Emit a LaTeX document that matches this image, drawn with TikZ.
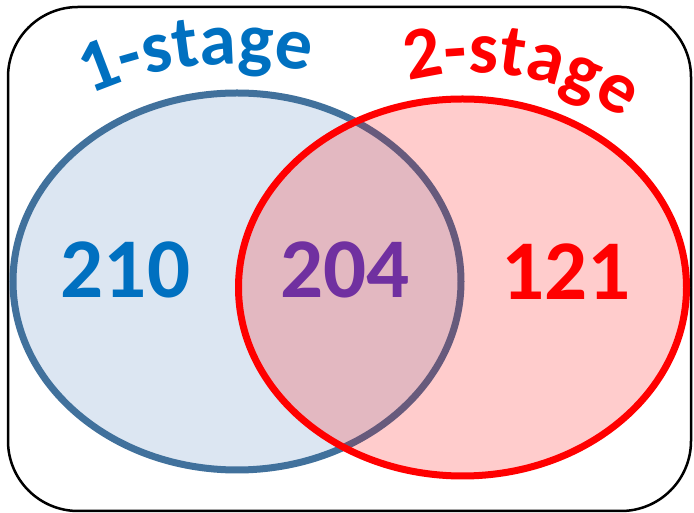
\documentclass[tikz,border=0pt]{standalone}
\usepackage{fontspec}
\setmainfont{Carlito}
\usetikzlibrary{decorations.text}
\definecolor{lblue}{HTML}{0070C0}
\definecolor{lpurple}{HTML}{7030A0}
\definecolor{lred}{HTML}{FF0000}
\definecolor{bfill}{HTML}{DCE6F2}
\definecolor{bline}{HTML}{41719C}
\newcommand\lblfont{\fontsize{74}{74}\selectfont\bfseries}
\newcommand\numfont{\fontsize{85}{85}\selectfont\bfseries}
\tikzset{
  frame/.style={draw=black, line width=2.5pt, rounded corners=70pt},
  setA/.style={fill=bfill, draw=bline, line width=7pt},
  setB/.style={fill=red, fill opacity=0.2, draw=lred, draw opacity=1, line width=7pt},
  count/.style={font=\numfont, inner sep=0pt},
}
\begin{document}
\begin{tikzpicture}[x=1pt,y=1pt]
\useasboundingbox (0,0) rectangle (694,513);
\draw[frame] (8,506) rectangle (691,2);
\path[setA] (237,231.5) ellipse [x radius=224, y radius=188.5];
\path[setB] (462.5,225.5) ellipse [x radius=224, y radius=188.5];
\node[count, text=lblue] (n210) at (125.5,243) {210};
\node[count, text=lpurple] (n204) at (345,243) {204};
\node[count, text=lred] (n121) at (566,241) {121};
\path[decorate, decoration={text along path, text={|\lblfont|1-stage}, text align=center, text color=lblue}]
  (235,89) ++(156:360) arc[start angle=156, end angle=36, radius=360];
\path[decorate, decoration={text along path, text={|\lblfont|2-stage}, text align=center, text color=lred}]
  (475,180) ++(140:260) arc[start angle=140, end angle=20, radius=260];
\end{tikzpicture}
\end{document}
